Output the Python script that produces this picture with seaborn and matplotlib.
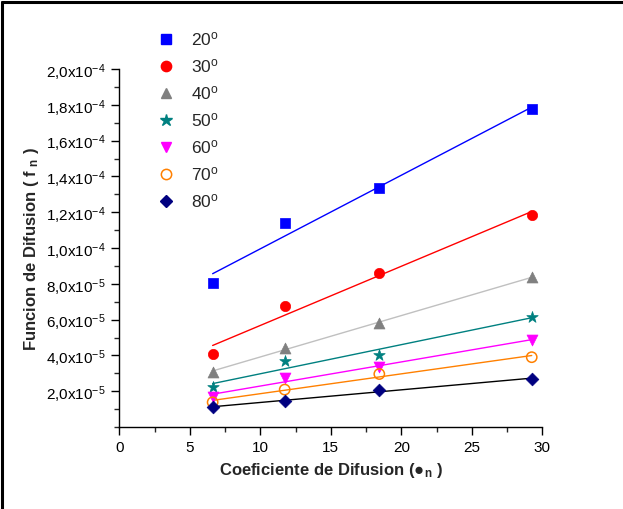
import matplotlib
matplotlib.use("Agg")
import matplotlib.pyplot as plt
import seaborn as sns
import numpy as np
import pandas as pd
from matplotlib.lines import Line2D
from matplotlib.ticker import FixedLocator, FixedFormatter, MultipleLocator

# ---- data ----
x_vals = [6.62, 11.73, 18.44, 29.25]
series_labels = ["20$^{\\mathrm{o}}$", "30$^{\\mathrm{o}}$", "40$^{\\mathrm{o}}$", "50$^{\\mathrm{o}}$",
                 "60$^{\\mathrm{o}}$", "70$^{\\mathrm{o}}$", "80$^{\\mathrm{o}}$"]
y_20 = [8.03e-5, 1.140e-4, 1.335e-4, 1.774e-4]
y_30 = [4.08e-5, 6.78e-5, 8.59e-5, 1.185e-4]
y_40 = [3.09e-5, 4.40e-5, 5.81e-5, 8.37e-5]
y_50 = [2.25e-5, 3.67e-5, 4.04e-5, 6.17e-5]
y_60 = [1.69e-5, 2.74e-5, 3.37e-5, 4.86e-5]
y_70 = [1.38e-5, 2.09e-5, 2.96e-5, 3.90e-5]
y_80 = [1.10e-5, 1.47e-5, 2.07e-5, 2.68e-5]
all_y = [y_20, y_30, y_40, y_50, y_60, y_70, y_80]

x_ticks = [0, 5, 10, 15, 20, 25, 30]
y_ticks = [2e-5, 4e-5, 6e-5, 8e-5, 1e-4, 1.2e-4, 1.4e-4, 1.6e-4, 1.8e-4, 2e-4]
y_tick_labels = ["2,0x10$^{-5}$", "4,0x10$^{-5}$", "6,0x10$^{-5}$", "8,0x10$^{-5}$",
                 "1,0x10$^{-4}$", "1,2x10$^{-4}$", "1,4x10$^{-4}$", "1,6x10$^{-4}$",
                 "1,8x10$^{-4}$", "2,0x10$^{-4}$"]

# ---- styles ----
marker_colors = ["#0000FF", "#FF0000", "#808080", "#008080", "#FF00FF", "#FF8000", "#000080"]
line_colors = ["#0000FF", "#FF0000", "#C0C0C0", "#008080", "#FF00FF", "#FF8000", "#000000"]
markers = ["s", "o", "^", "*", "v", "o", "D"]
msizes = [42, 55, 62, 75, 62, 55, 42]

sns.set_style("white")
plt.rcParams['font.family'] = ['Liberation Sans', 'DejaVu Sans']
plt.rcParams['mathtext.fontset'] = 'custom'
plt.rcParams['mathtext.rm'] = 'Liberation Sans'
plt.rcParams['mathtext.it'] = 'Liberation Sans:italic'
plt.rcParams['mathtext.bf'] = 'Liberation Sans:bold'

fig = plt.figure(figsize=(6.23, 5.10), dpi=100)
ax = fig.add_axes([119.3 / 623, 1 - 428 / 510, (542.3 - 119.3) / 623, (428 - 70) / 510])

handles = []
for i, (lab, ys) in enumerate(zip(series_labels, all_y)):
    df = pd.DataFrame({"x": x_vals, "y": ys})
    sns.regplot(data=df, x="x", y="y", ax=ax, scatter=False, ci=None, truncate=True,
                line_kws=dict(color=line_colors[i], lw=1.0))
    if i == 5:
        sns.scatterplot(data=df, x="x", y="y", ax=ax, marker="o", s=msizes[i],
                        facecolors="none", edgecolor=marker_colors[i], linewidth=1.1, zorder=3)
        h = Line2D([], [], ls="none", marker="o", markersize=np.sqrt(msizes[i]), markerfacecolor="none",
                   markeredgecolor=marker_colors[i], markeredgewidth=1.1)
    else:
        sns.scatterplot(data=df, x="x", y="y", ax=ax, marker=markers[i], s=msizes[i],
                        color=marker_colors[i], edgecolor=marker_colors[i], linewidth=0.5, zorder=3)
        h = Line2D([], [], ls="none", marker=markers[i], markersize=np.sqrt(msizes[i]),
                   color=marker_colors[i])
    handles.append(h)

ax.set_xlim(0, 30)
ax.set_ylim(0, 2.0e-4)
ax.xaxis.set_major_locator(FixedLocator(x_ticks))
ax.xaxis.set_minor_locator(MultipleLocator(2.5))
ax.yaxis.set_major_locator(FixedLocator(y_ticks))
ax.yaxis.set_major_formatter(FixedFormatter(y_tick_labels))
ax.yaxis.set_minor_locator(MultipleLocator(1e-5))

for s in ["top", "right"]:
    ax.spines[s].set_visible(False)
for s in ["left", "bottom"]:
    ax.spines[s].set_color("black")
    ax.spines[s].set_linewidth(1.0)

ax.tick_params(axis="both", which="major", direction="out", length=6, width=1.0,
               labelsize=11, colors="black", left=True, bottom=True)
ax.tick_params(axis="both", which="minor", direction="out", length=3.5, width=1.0,
               left=True, bottom=True)

ax.set_xlabel("Coeficiente de Difusion (●$_{\\mathbf{n}}$ )", fontsize=12, fontweight="bold", labelpad=4)
ax.set_ylabel("Funcion de Difusion ( f $_{\\mathbf{n}}$ )", fontsize=12, fontweight="bold", labelpad=4)

leg = ax.legend(handles, series_labels, loc="upper left", bbox_to_anchor=(142 / 623, 1 - 15 / 510),
                bbox_transform=fig.transFigure, frameon=False, fontsize=12.5,
                handlelength=1.0, handletextpad=0.9, labelspacing=0.52)

# outer figure frame (left and top edges)
fig.add_artist(Line2D([2.5 / 623, 2.5 / 623], [0, 1 - 2.5 / 510], color="black", lw=2.2,
                      transform=fig.transFigure))
fig.add_artist(Line2D([1.5 / 623, 1], [1 - 2.5 / 510, 1 - 2.5 / 510], color="black", lw=2.2,
                      transform=fig.transFigure))

fig.savefig("out.png", dpi=100)
